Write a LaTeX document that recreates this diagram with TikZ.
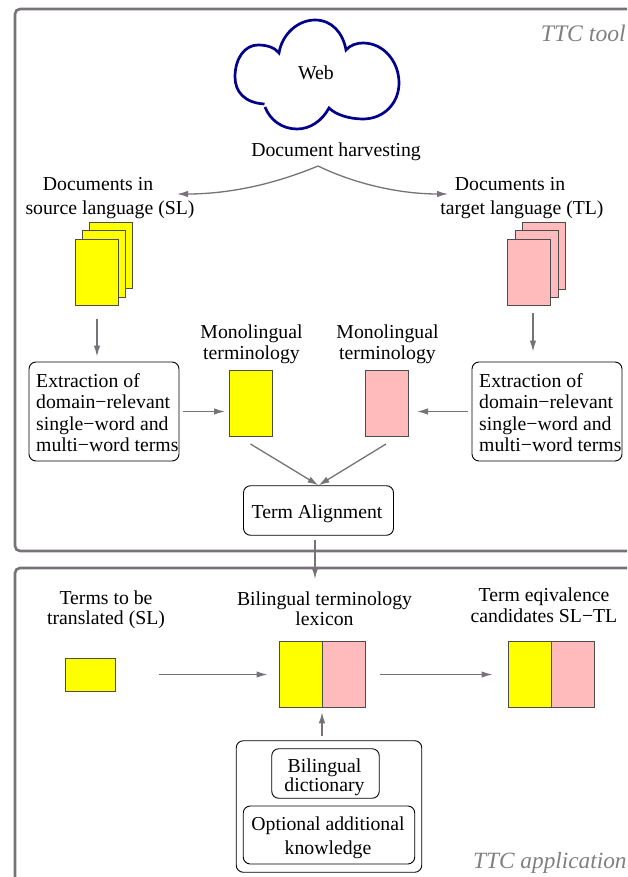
\documentclass[tikz,border=0pt]{standalone}
\usepackage{fontspec}
\setmainfont{Liberation Serif}
\usepackage{tikz}
\usetikzlibrary{positioning,arrows.meta}
\definecolor{slcol}{RGB}{255,255,0}
\definecolor{tlcol}{RGB}{255,187,187}
\definecolor{flowgray}{RGB}{118,114,120}
\definecolor{cloudblue}{RGB}{0,0,139}
\tikzset{
	lbl/.style={inner sep=0,align=center,font=\fontsize{19.75}{21}\selectfont},
	capt/.style={inner sep=0,font=\fontsize{23.7}{26}\selectfont\itshape,text=black!50},
	frame/.style={draw=flowgray,line width=2.6pt,rounded corners=5pt},
	rbox/.style={draw,line width=0.9pt,rounded corners=7pt,inner sep=0},
	sheet/.style={draw=black!70,line width=1pt,inner sep=0},
	flow/.style={draw=flowgray,line width=1.3pt,-{Latex[length=11pt,width=6.5pt]},shorten >=4pt,shorten <=4pt}
}
\begin{document}
\begin{tikzpicture}[x=1pt,y=-1pt]
	\useasboundingbox (0,0) rectangle (627,877);
	\clip (0,0) rectangle (627,877);
	\draw[frame] (15,9) rectangle (660,551);
	\draw[frame] (15,568) rectangle (660,920);
	\node[capt,anchor=east] (tool) at (626,33) {TTC tool};
	\node[capt,anchor=west,font=\fontsize{23.3}{26}\selectfont\itshape] (appl) at (473,863) {TTC application};
	%web
	\draw[draw=cloudblue,line width=2.7pt] (264.5,104) .. controls (245,103) and (235,92) .. (235,77)
		.. controls (235,58) and (245,45) .. (258,45) .. controls (268,45) and (275,48) .. (279,53)
		.. controls (282,34) and (298,20) .. (315,20) .. controls (332,20) and (343,33) .. (346,50)
		.. controls (350,45) and (357,43) .. (363,43) .. controls (384,43) and (399,62) .. (399,83)
		.. controls (399,103) and (384,119) .. (363,119) .. controls (350,119) and (336,115) .. (329,108)
		.. controls (322,121) and (310,129) .. (297,129) .. controls (282,129) and (270,120) .. (265,107);
	\node[lbl] (web) at (316,73) {Web};
	\node[lbl] (harvest) at (336,152) {Document harvesting};
	\coordinate (fork) at (318,166);
	\coordinate (forkl) at (177,194);
	\coordinate (forkr) at (448,194);
	\draw[flow,shorten <=0pt,shorten >=0pt] (fork) .. controls (270,186) and (225,194) .. (forkl);
	\draw[flow,shorten <=0pt,shorten >=0pt] (fork) .. controls (355,184) and (400,194) .. (forkr);
	%source side
	\node[lbl] (srca) at (98,184) {Documents in};
	\node[lbl] (srcb) at (110,210) {source language (SL)};
	\node[sheet,fill=slcol,minimum width=43pt,minimum height=66pt] (srcs) at (111,255.5) {};
	\node[sheet,fill=slcol,minimum width=43pt,minimum height=66pt] (srcm) at (104,264) {};
	\node[sheet,fill=slcol,minimum width=43pt,minimum height=66pt] (srcf) at (97,272) {};
	\node[rbox,minimum width=150pt,minimum height=99pt] (extrl) at (104,411.5) {};
	\node[lbl,align=left,anchor=west,font=\fontsize{19.75}{21.3}\selectfont] (extrltxt) at (36,412.5) {Extraction of\\domain−relevant\\single−word and\\multi−word terms};
	\node[lbl] (monol) at (251.5,344) {Monolingual\\terminology};
	\node[sheet,fill=slcol,minimum width=43pt,minimum height=66.5pt] (termsl) at (250.5,403.5) {};
	%target side
	\node[lbl] (tgta) at (510,184) {Documents in};
	\node[lbl] (tgtb) at (522,210) {target language (TL)};
	\node[sheet,fill=tlcol,minimum width=43pt,minimum height=66pt] (tgts) at (544,256) {};
	\node[sheet,fill=tlcol,minimum width=43pt,minimum height=66pt] (tgtm) at (536.5,264) {};
	\node[sheet,fill=tlcol,minimum width=43pt,minimum height=66pt] (tgtf) at (529,272) {};
	\node[rbox,minimum width=150pt,minimum height=99pt] (extrr) at (547,411.5) {};
	\node[lbl,align=left,anchor=west,font=\fontsize{19.75}{21.3}\selectfont] (extrrtxt) at (479,412.5) {Extraction of\\domain−relevant\\single−word and\\multi−word terms};
	\node[lbl] (monor) at (387.5,344) {Monolingual\\terminology};
	\node[sheet,fill=tlcol,minimum width=43pt,minimum height=66.5pt] (termtl) at (386.5,403.5) {};
	\node[rbox,minimum width=150pt,minimum height=49.5pt] (align) at (318.5,510.5) {};
	\node[lbl] (aligntxt) at (317,514) {Term Alignment};
	\coordinate (tgtout) at (533,309);
	\coordinate (inmonol) at (229,411.5);
	\coordinate (inmonor) at (408,411.5);
	\coordinate (outmonol) at (250.5,444);
	\coordinate (outmonor) at (386,444);
	\draw[flow,shorten <=13pt,shorten >=5pt] (srcf.south) -- (srcf.south |- extrl.north);
	\draw[flow,shorten >=10pt] (tgtout) -- (tgtout |- extrr.north);
	\draw[flow] (extrl.east |- inmonol) -- (inmonol);
	\draw[flow,shorten >=9pt] (extrr.west |- inmonor) -- (inmonor);
	\draw[flow,shorten <=0pt,shorten >=0pt] (outmonol) -- (align.north);
	\draw[flow,shorten <=0pt,shorten >=0pt] (outmonor) -- (align.north);
	%application
	\coordinate (lexin) at (315,583);
	\draw[flow] (align.south -| lexin) -- (lexin);
	\node[lbl,font=\fontsize{19.75}{20}\selectfont] (transl) at (106,609.5) {Terms to be\\translated (SL)};
	\node[sheet,fill=slcol,minimum width=50pt,minimum height=33pt] (termsin) at (90,674.5) {};
	\node[lbl,font=\fontsize{19.75}{20}\selectfont] (bilex) at (324.5,609) {Bilingual terminology\\lexicon};
	\node[sheet,fill=slcol,minimum width=43pt,minimum height=66.5pt] (lexs) at (300.5,674.5) {};
	\node[sheet,fill=tlcol,minimum width=43pt,minimum height=66.5pt] (lext) at (343.5,674.5) {};
	\node[lbl] (equiv) at (544,605) {Term eqivalence\\candidates SL−TL};
	\node[sheet,fill=slcol,minimum width=43pt,minimum height=66.5pt] (cands) at (529.5,674.5) {};
	\node[sheet,fill=tlcol,minimum width=43pt,minimum height=66.5pt] (candt) at (572.5,674.5) {};
	\node[rbox,minimum width=185.5pt,minimum height=131.5pt] (know) at (329,806.5) {};
	\node[rbox,minimum width=107.5pt,minimum height=49.5pt] (dict) at (325.5,773.5) {};
	\node[lbl,font=\fontsize{19.75}{19}\selectfont] (dicttxt) at (324.5,777.5) {Bilingual\\dictionary};
	\node[rbox,minimum width=171.5pt,minimum height=58pt] (optn) at (329,835) {};
	\node[lbl,font=\fontsize{19.75}{24}\selectfont] (optntxt) at (328,838) {Optional additional\\knowledge};
	\coordinate (knowout) at (322,741);
	\draw[flow,shorten <=43pt,shorten >=11pt] (termsin) -- (lexs);
	\draw[flow,shorten <=14pt,shorten >=15pt] (lext) -- (cands);
	\draw[flow,shorten <=5pt] (knowout) -- (knowout |- lexs.south);
\end{tikzpicture}
\end{document}
